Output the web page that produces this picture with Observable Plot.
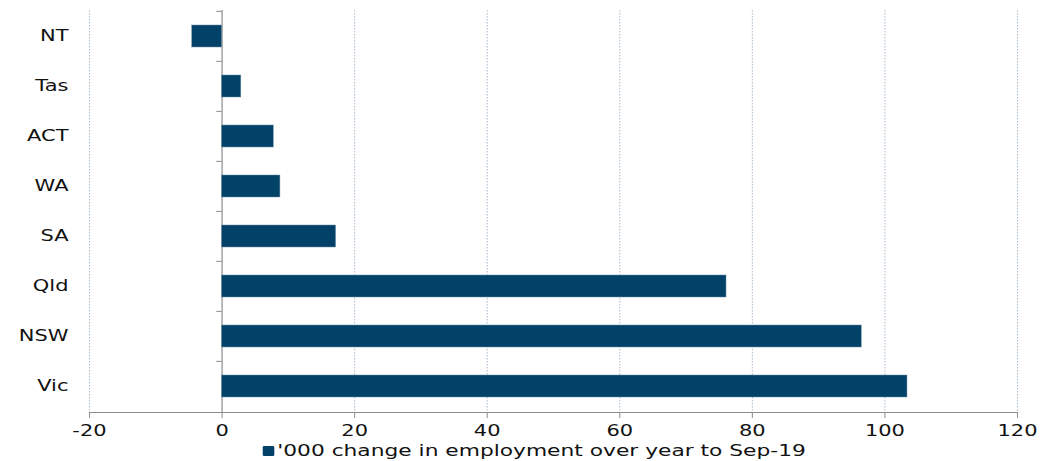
<!DOCTYPE html>
<html>
<head>
<meta charset="utf-8">
<script src="https://cdn.jsdelivr.net/npm/d3@7"></script>
<script src="https://cdn.jsdelivr.net/npm/@observablehq/plot@0.6"></script>
<style>
  html, body { margin: 0; padding: 0; background: #fff; }
  #chart { width: 1040px; }
  .legend { height: 21px; display: flex; justify-content: center; align-items: center;
    font-family: "DejaVu Sans", Verdana, sans-serif; font-size: 15px; color: #111; }
  .legend .inner { display: inline-flex; align-items: center; transform: scaleX(1.45); margin-left: 28px; }
  .legend .sw { width: 8px; height: 10px; background: #024168; margin-right: 2px; border-radius: 1px; }
</style>
</head>
<body>
<div id="chart"></div>
<script>
const states = ["NT", "Tas", "ACT", "WA", "SA", "Qld", "NSW", "Vic"];
const change = [-4.5, 2.9, 7.8, 8.8, 17.2, 76.1, 96.5, 103.4];
const xTicks = [-20, 0, 20, 40, 60, 80, 100, 120];
const seriesName = "'000 change in employment over year to Sep-19";

const data = states.map((s, i) => ({state: s, value: change[i]}));
const barColor = "#024168";
const bw = 402 / states.length;
const stretch = 1.4;

const plot = Plot.plot({
  width: 1040,
  height: 440,
  marginLeft: 89,
  marginRight: 23,
  marginTop: 10,
  marginBottom: 28,
  style: {fontFamily: "DejaVu Sans, Verdana, sans-serif", fontSize: "15px", color: "#111", background: "#fff"},
  x: {domain: [-20, 120], label: null},
  y: {domain: states, padding: 0, label: null},
  marks: [
    Plot.ruleX(xTicks.filter(d => d !== 0), {stroke: "#a9bccd", strokeDasharray: "1.5,1.5", strokeWidth: 1}),
    Plot.ruleX([0], {stroke: "#8c8c8c", strokeWidth: 1.2}),
    Plot.ruleY(states, {y: d => d, x1: -0.8, x2: 0, dy: -bw / 2, stroke: "#8c8c8c"}),
    Plot.barX(data, {y: "state", x: "value", fill: barColor, insetTop: 14, insetBottom: 14, stroke: "#6d8ea6", strokeWidth: 0.5}),
    Plot.frame({anchor: "bottom", stroke: "#8c8c8c", strokeWidth: 1.2}),
    Plot.axisX({ticks: xTicks, tickSize: 6, tickPadding: 7, stroke: "#8c8c8c", fontSize: 15, tickFormat: d => String(d), label: null}),
    Plot.axisY({tickSize: 0, tickPadding: 21, fontSize: 15, label: null})
  ]
});

// widen glyphs horizontally to match the reference's stretched lettering
plot.querySelectorAll("text").forEach(t => {
  const tr = t.getAttribute("transform") || "";
  const x = +(t.getAttribute("x") || 0);
  t.removeAttribute("x");
  t.setAttribute("transform", `${tr} translate(${x},0) scale(${stretch},1)`);
});

document.getElementById("chart").appendChild(plot);

const leg = document.createElement("div");
leg.className = "legend";
leg.innerHTML = '<span class="inner"><span class="sw"></span><span class="lt"></span></span>';
leg.querySelector(".lt").textContent = seriesName;
document.getElementById("chart").appendChild(leg);
</script>
</body>
</html>
